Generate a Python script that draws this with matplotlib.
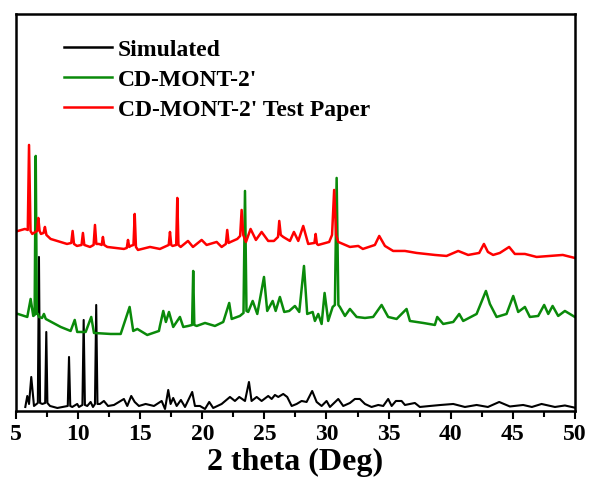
import matplotlib
matplotlib.use("Agg")
import matplotlib.pyplot as plt
from matplotlib.ticker import MultipleLocator

# ---- data (2-theta in degrees, stacked intensity in arbitrary units) ----
sim_x = [5.75, 5.91, 6.05, 6.23, 6.45, 6.76, 6.85, 6.94, 7.12, 7.35, 7.44, 7.53, 7.74, 8.33,
         9.17, 9.27, 9.37, 9.53, 9.93, 10.07, 10.35, 10.45, 10.55, 10.74, 11.01, 11.20,
         11.36, 11.46, 11.56, 11.76, 12.08, 12.41, 12.89, 13.69, 13.96, 14.28, 14.56, 14.90,
         15.44, 16.11, 16.73, 17.00, 17.26, 17.45, 17.66, 17.94, 18.28, 18.61, 19.19, 19.41,
         19.81, 20.22, 20.56, 20.88, 21.56, 22.23, 22.63, 22.98, 23.44, 23.76, 23.97, 24.38,
         24.78, 25.31, 25.59, 25.85, 26.12, 26.52, 26.84, 27.20, 27.60, 28.00, 28.40, 28.85,
         29.21, 29.61, 30.01, 30.28, 30.95, 31.35, 31.89, 32.29, 32.69, 33.10, 33.63, 34.17,
         34.57, 34.97, 35.25, 35.59, 36.05, 36.32, 37.12, 37.52, 38.33, 39.20, 40.21, 41.15,
         42.09, 43.00, 43.91, 44.77, 45.84, 46.54, 47.32, 48.40, 49.20, 50.00]
sim_y = [4, 15, 7, 34, 5, 8, 154, 8, 7, 8, 79, 8, 5, 3,
         5, 54, 5, 4, 7, 4, 6, 91, 6, 5, 9, 4,
         7, 106, 7, 7, 10, 5, 6, 12, 5, 15, 9, 5,
         7, 5, 10, 2, 21, 7, 13, 5, 11, 4, 19, 5,
         5, 2, 9, 3, 7, 14, 10, 14, 10, 29, 10, 14,
         10, 15, 12, 16, 14, 17, 14, 5, 7, 10, 9, 20,
         9, 5, 10, 4, 12, 5, 8, 12, 12, 7, 4, 6,
         5, 12, 5, 10, 10, 6, 8, 4, 5, 6, 7, 4,
         6, 4, 9, 4.5, 6, 4, 7, 4, 5.5, 3.3]

cd_x = [5.16, 5.91, 6.18, 6.39, 6.50, 6.59, 6.68, 6.77, 6.85, 7.10, 7.25, 7.40, 8.60, 9.40,
        9.73, 9.93, 10.61, 11.06, 11.28, 12.62, 13.43, 14.15, 14.44, 14.77, 15.57, 16.51,
        16.59, 16.86, 17.07, 17.32, 17.66, 18.20, 18.47, 18.87, 19.18, 19.27, 19.36, 19.55,
        20.22, 21.02, 21.69, 22.17, 22.37, 23.03, 23.32, 23.44, 23.56, 23.70, 24.06, 24.43,
        24.97, 25.23, 25.67, 25.91, 26.25, 26.60, 27.00, 27.46, 27.81, 28.19, 28.45, 28.89,
        29.07, 29.34, 29.61, 29.85, 30.14, 30.50, 30.68, 30.82, 30.96, 31.08, 31.49, 31.89,
        32.43, 33.10, 33.76, 34.44, 34.97, 35.65, 36.45, 36.72, 37.79, 38.73, 38.92, 39.40,
        40.21, 40.69, 41.01, 42.09, 42.84, 43.16, 43.70, 44.50, 45.04, 45.44, 45.98, 46.38,
        47.05, 47.53, 47.86, 48.21, 48.66, 49.20, 50.00]
cd_y = [97, 94, 112, 95, 96, 255, 97, 97, 94, 93, 97, 92, 84, 80,
        91, 79, 79, 94, 78, 77, 77, 104, 80, 82, 76, 80,
        85, 100, 89, 99, 84, 94, 84, 85, 86, 140, 86, 85,
        88, 85, 89, 108, 92, 95, 98, 220, 100, 99, 110, 97,
        134, 100, 110, 100, 114, 99, 100, 105, 99, 145, 97, 99,
        90, 97, 87, 118, 90, 104, 106, 233, 106, 104, 95, 102,
        94, 93, 94, 106, 94, 92, 102, 90, 88, 86, 94, 87,
        89, 97, 90, 97, 120, 107, 94, 97, 115, 99, 104, 94,
        95, 106, 97, 105, 95, 100, 94]

tp_x = [5.16, 5.72, 5.95, 6.05, 6.17, 6.31, 6.70, 6.80, 6.90, 7.01, 7.22, 7.33, 7.45, 7.79,
        9.11, 9.45, 9.56, 9.67, 9.91, 10.28, 10.39, 10.50, 10.96, 11.25, 11.36, 11.47, 11.68,
        11.90, 12.00, 12.10, 12.35, 13.69, 13.92, 14.02, 14.12, 14.23, 14.46, 14.56, 14.66,
        14.82, 15.79, 16.59, 17.30, 17.40, 17.50, 17.61, 17.90, 17.99, 18.08, 18.26, 18.85,
        19.25, 19.95, 20.35, 21.16, 21.56, 21.90, 22.01, 22.12, 22.28, 22.82, 23.05, 23.17,
        23.30, 23.52, 23.89, 24.32, 24.78, 25.31, 25.77, 26.10, 26.20, 26.32, 26.52, 27.06,
        27.38, 27.73, 28.13, 28.53, 29.03, 29.13, 29.23, 29.34, 30.22, 30.45, 30.62, 30.78,
        30.95, 31.89, 32.56, 32.93, 33.90, 34.25, 34.71, 35.37, 36.32, 37.26, 38.73, 39.67,
        40.61, 41.41, 42.30, 42.68, 43.00, 43.42, 43.96, 44.71, 45.17, 45.98, 46.92, 49.03,
        50.00]
tp_y = [180, 182, 181, 266, 180, 177, 180, 193, 180, 177, 178, 184, 176, 172,
        167, 168, 180, 167, 165, 166, 178, 166, 164, 166, 186, 167, 167,
        166, 174, 166, 164, 162, 163, 171, 164, 165, 166, 197, 164,
        161, 164, 162, 166, 179, 166, 165, 166, 213, 166, 164, 170,
        164, 171, 166, 169, 164, 167, 181, 168, 169, 172, 175, 201,
        176, 169, 182, 171, 179, 170, 170, 174, 190, 176, 174, 170,
        179, 170, 185, 167, 168, 177, 167, 166, 169, 176, 221, 176,
        169, 164, 165, 162, 166, 175, 165, 160, 160, 158, 156, 155,
        160, 156, 158, 167, 159, 156, 158, 164, 157, 157, 154, 156,
        153]

labels = ["Simulated", "CD-MONT-2'", "CD-MONT-2' Test Paper"]
x_ticks = [5, 10, 15, 20, 25, 30, 35, 40, 45, 50]

plt.rcParams['font.family'] = ['Liberation Serif', 'DejaVu Serif']
plt.rcParams['font.weight'] = 'bold'

fig = plt.figure(figsize=(5.92, 4.81), dpi=100)
ax = fig.add_axes([0.027, 0.1435, 0.944, 0.8255])

ax.plot(sim_x, sim_y, color='black', lw=1.5, label=labels[0])
ax.plot(cd_x, cd_y, color='#0a8a0a', lw=1.8, label=labels[1])
ax.plot(tp_x, tp_y, color='#ff0000', lw=1.8, label=labels[2])

ax.set_xlim(5, 50)
ax.set_ylim(0, 397)
ax.set_xticks(x_ticks)
ax.set_xticklabels([str(t) for t in x_ticks])
ax.xaxis.set_minor_locator(MultipleLocator(2.5))
ax.set_yticks([])
ax.tick_params(axis='x', which='major', direction='out', length=6, width=1.5,
               labelsize=17, pad=3)
ax.tick_params(axis='x', which='minor', direction='out', length=4, width=1.5)
for lab in ax.get_xticklabels():
    lab.set_fontweight('bold')
for sp in ax.spines.values():
    sp.set_linewidth(1.8)

ax.set_xlabel('2 theta (Deg)', fontsize=23, fontweight='bold', labelpad=2)

leg = ax.legend(loc='upper left', bbox_to_anchor=(0.064, 0.967), frameon=False,
                borderpad=0, handlelength=2.05, handletextpad=0.25, labelspacing=0.36,
                prop={'family': 'Liberation Serif', 'weight': 'bold', 'size': 17})
for h in leg.get_lines():
    h.set_linewidth(1.8)

fig.savefig('out.png', dpi=100)
